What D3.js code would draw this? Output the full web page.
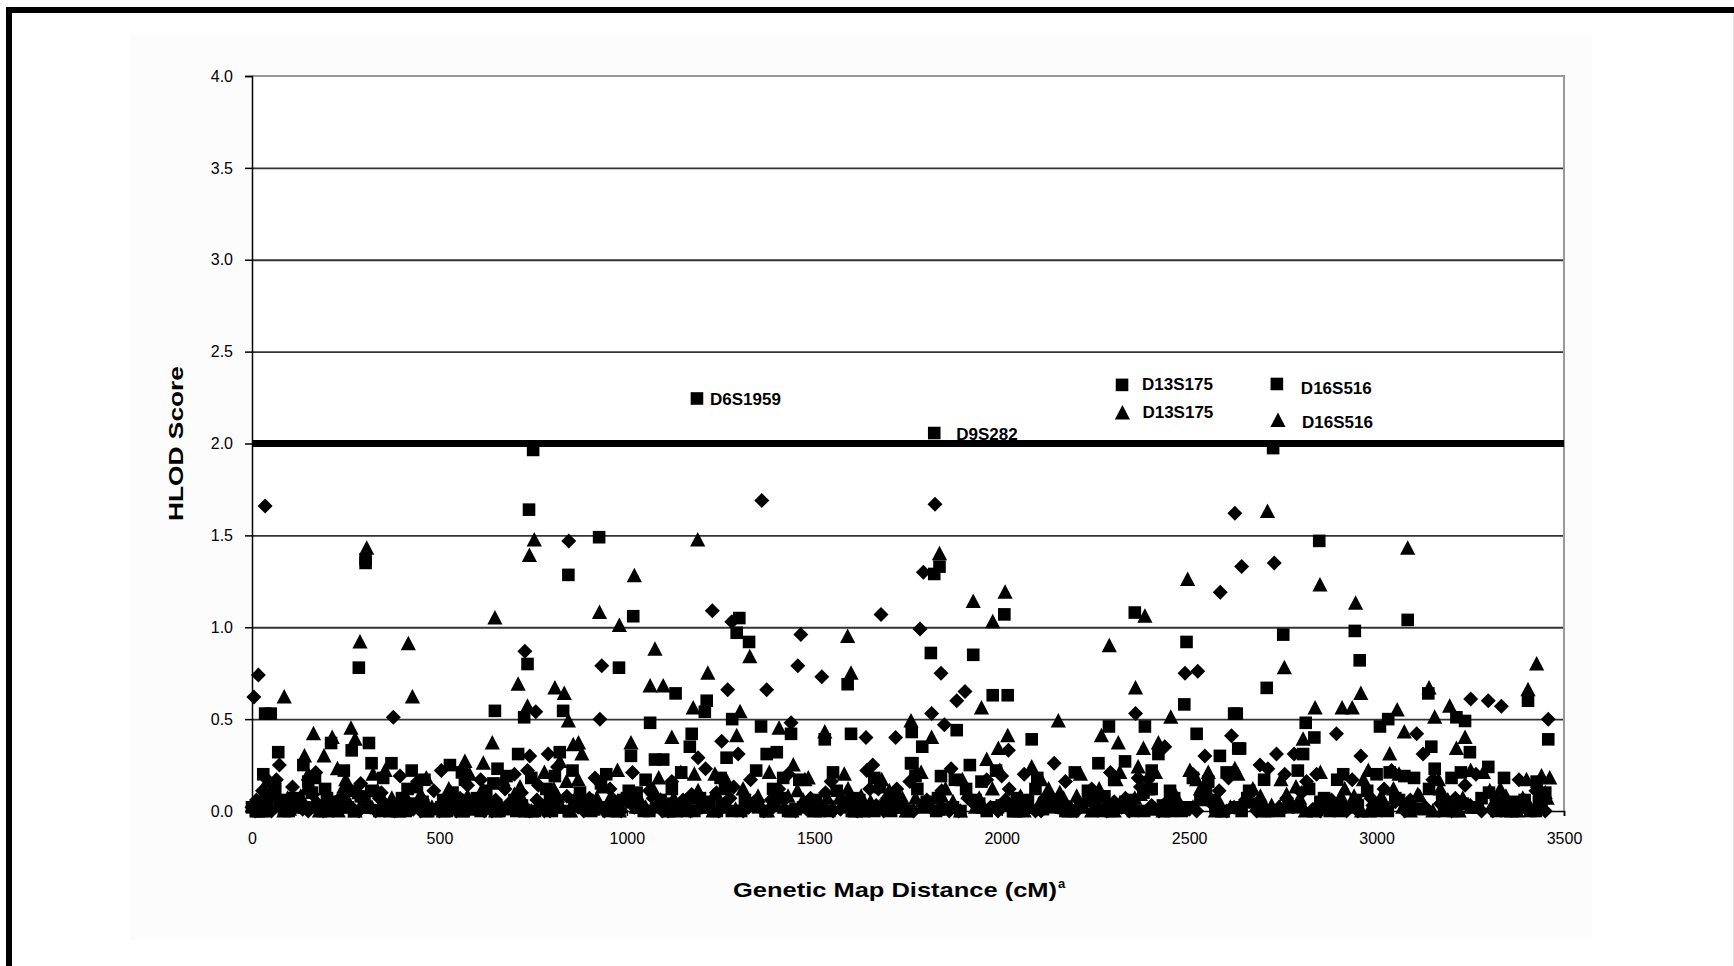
<!DOCTYPE html>
<html>
<head>
<meta charset="utf-8">
<script src="https://cdn.jsdelivr.net/npm/d3@7"></script>
<style>
  body { margin: 0; background: #fff; }
  svg { display: block; }
  text { font-family: "Liberation Sans", Arial, sans-serif; fill: #000; }
</style>
</head>
<body>
<div id="chart"></div>
<script>
'use strict'

// ---------------- data (cM, HLOD) ----------------
const diamonds = [
  [35,1.66],[845,1.47],[728,0.87],[17,0.74],[5,0.62],[377,0.51],[757,0.54],[73,0.25],[741,0.30],[735,0.22],[790,0.31],[764,0.14],[719,0.10],[442,0.16],[36,0.18],
  [1360,1.69],[1228,1.09],[1280,1.03],[1464,0.96],[1678,1.07],[933,0.79],[1456,0.79],[1520,0.73],[1269,0.66],[1373,0.66],[928,0.50],[1438,0.48],[1638,0.40],[1717,0.40],[1253,0.38],[1297,0.31],[1190,0.29],[1656,0.25],[1648,0.12],[1671,0.12],[1173,0.09],[1239,0.10],
  [1822,1.67],[2622,1.62],[1791,1.30],[2640,1.33],[2583,1.19],[1782,0.99],[1838,0.75],[2489,0.75],[2523,0.76],[1880,0.60],[1902,0.65],[1813,0.53],[2357,0.53],[1847,0.47],[2435,0.35],[2018,0.33],[2613,0.41],[2542,0.30],[2140,0.26],[2364,0.18],[2000,0.19],[1773,0.20],
  [2727,1.35],[3251,0.61],[3298,0.60],[3333,0.57],[3458,0.50],[3107,0.42],[2893,0.42],[3124,0.31],[2733,0.31],[2780,0.31],[2958,0.30],[2689,0.25],[2755,0.20],[2813,0.16],[3236,0.14]
]
const diamondsLow = [
  [0,0.02],[20,0.05],[45,0.01],[60,0.08],[95,0.03],[120,0.06],[150,0.0],[175,0.04],[205,0.02],[240,0.07],[270,0.01],[300,0.05],[330,0.0],[360,0.03],[400,0.06],[430,0.01],[470,0.02],[500,0.0],[530,0.04],[560,0.02],[590,0.06],[620,0.0],[660,0.03],[690,0.05],[720,0.01],[780,0.0],[810,0.04],[870,0.02],[900,0.07],[940,0.0],[970,0.03],[1000,0.05],[1040,0.01],[1080,0.04],[1110,0.0],[1150,0.06],[1200,0.02],[1260,0.04],[1310,0.0],[1340,0.05],[1390,0.02],[1420,0.06],[1480,0.01],[1510,0.03],[1550,0.0],[1600,0.04],[1630,0.02],[1700,0.05],[1740,0.01],[1790,0.03],[1860,0.0],[1920,0.05],[1970,0.02],[2040,0.04],[2090,0.0],[2120,0.06],[2180,0.02],[2220,0.04],[2260,0.01],[2300,0.05],[2340,0.0],[2400,0.03],[2460,0.06],[2500,0.01],[2560,0.04],[2600,0.0],[2660,0.05],[2700,0.02],[2770,0.04],[2830,0.01],[2870,0.06],[2920,0.0],[2990,0.03],[3050,0.05],[3100,0.01],[3170,0.04],[3220,0.02],[3280,0.0],[3350,0.05],[3400,0.02],[3450,0.0],
  [8,0.0],[28,0.11],[52,0.0],[78,0.02],[108,0.13],[135,0.01],[162,0.09],[190,0.0],[222,0.03],[255,0.12],[285,0.0],[315,0.02],[345,0.10],[380,0.0],[415,0.02],[450,0.0],[485,0.11],[515,0.01],[545,0.0],[575,0.14],[605,0.02],[640,0.0],[675,0.12],[705,0.02],[740,0.0],[770,0.03],[795,0.0],[840,0.08],[885,0.0],[920,0.02],[955,0.12],[985,0.0],[1020,0.02],[1060,0.11],[1095,0.0],[1130,0.02],[1170,0.0],[1215,0.03],[1245,0.0],[1285,0.13],[1325,0.02],[1365,0.0],[1405,0.12],[1450,0.0],[1495,0.02],[1530,0.10],[1570,0.01],[1615,0.0],[1665,0.03],[1685,0.0],[1720,0.12],[1765,0.0],[1810,0.02],[1840,0.11],[1885,0.0],[1945,0.02],[1990,0.0],[2020,0.12],[2065,0.01],[2105,0.0],[2150,0.02],[2200,0.0],[2240,0.12],[2280,0.0],[2320,0.02],[2370,0.13],[2420,0.0],[2480,0.02],[2520,0.0],[2580,0.11],[2620,0.02],[2680,0.0],[2740,0.02],[2800,0.10],[2850,0.0],[2900,0.03],[2950,0.0],[3020,0.12],[3075,0.0],[3130,0.02],[3200,0.0],[3250,0.03],[3310,0.0],[3370,0.02],[3425,0.11],
  [12,0.06],[65,0.17],[115,0.05],[170,0.21],[230,0.06],[290,0.15],[340,0.07],[395,0.19],[455,0.06],[505,0.22],[555,0.07],[610,0.17],[650,0.06],[700,0.20],[760,0.06],[815,0.24],[865,0.07],[915,0.18],[965,0.06],[1015,0.21],[1070,0.07],[1120,0.16],[1160,0.06],[1210,0.23],[1275,0.07],[1330,0.17],[1385,0.06],[1430,0.20],[1490,0.07],[1545,0.16],[1590,0.06],[1640,0.22],[1695,0.07],[1755,0.16],[1800,0.06],[1865,0.23],[1910,0.07],[1960,0.17],[2010,0.06],[2060,0.20],[2115,0.07],[2170,0.16],[2230,0.06],[2290,0.21],[2330,0.07],[2390,0.17],[2445,0.06],[2510,0.20],[2555,0.07],[2605,0.18],[2650,0.06],[2710,0.23],[2760,0.07],[2840,0.20],[2880,0.06],[2935,0.17],[2985,0.07],[3040,0.22],[3090,0.06],[3150,0.17],[3210,0.07],[3265,0.20],[3320,0.06],[3380,0.17],[3440,0.07]
]

const squares = [
  [750,1.965],[739,1.64],[303,1.37],[303,1.35],[844,1.285],[735,0.80],[285,0.78],[35,0.53],[50,0.53],[648,0.545],[726,0.51],[830,0.545],[70,0.32],[312,0.37],[266,0.33],[137,0.25],[211,0.37],[319,0.26],[372,0.26],[426,0.22],[415,0.12],[168,0.18],[195,0.12],[266,0.11],[528,0.25],[568,0.17],[710,0.31],[644,0.15],[679,0.19],[821,0.32],[808,0.19],[435,0.04],
  [1187,2.245],[926,1.49],[1017,1.06],[1300,1.05],[1293,0.97],[1326,0.92],[979,0.78],[1589,0.69],[1130,0.64],[1213,0.60],[1208,0.54],[1062,0.48],[1281,0.50],[1358,0.46],[1438,0.42],[1528,0.39],[1598,0.42],[1760,0.43],[1011,0.30],[1173,0.42],[1168,0.35],[1266,0.29],[1075,0.28],[1097,0.28],[1373,0.31],[1400,0.32],[1758,0.26],[931,0.15],[1417,0.18],[1026,0.10],[1715,0.07],
  [1820,2.057],[1834,1.33],[1820,1.29],[2007,1.07],[2355,1.08],[2493,0.92],[1811,0.86],[1924,0.85],[1976,0.63],[2016,0.63],[2487,0.58],[2620,0.53],[1880,0.44],[2286,0.46],[2382,0.46],[2520,0.42],[2080,0.39],[1788,0.35],[2418,0.31],[2631,0.34],[2582,0.30],[1915,0.25],[1762,0.26],[2258,0.26],[2329,0.27],[2551,0.16],[1838,0.19],[1946,0.16],[2274,0.08],[2378,0.10],[2449,0.11],
  [2724,1.975],[2847,1.47],[3083,1.04],[2751,0.96],[2942,0.98],[2955,0.82],[2707,0.67],[3404,0.60],[3138,0.64],[2627,0.53],[3236,0.49],[3213,0.51],[2811,0.48],[3031,0.50],[3009,0.46],[2834,0.40],[3458,0.39],[3146,0.35],[3249,0.32],[2804,0.31],[2636,0.34],[3298,0.24],[3155,0.23],[3035,0.21],[3074,0.19],[2911,0.20],[3200,0.18],[3427,0.16],[3433,0.05]
]
const squaresLow = [
  [10,0.0],[40,0.04],[85,0.01],[110,0.07],[140,0.02],[190,0.0],[220,0.05],[255,0.02],[290,0.08],[340,0.0],[380,0.03],[410,0.0],[455,0.05],[490,0.01],[520,0.0],[550,0.06],[580,0.02],[610,0.0],[640,0.04],[675,0.01],[705,0.0],[770,0.03],[800,0.0],[860,0.05],[890,0.02],[950,0.0],[990,0.06],[1030,0.02],[1060,0.0],[1100,0.04],[1140,0.01],[1180,0.0],[1220,0.05],[1280,0.0],[1330,0.03],[1370,0.0],[1410,0.07],[1450,0.01],[1500,0.04],[1540,0.0],[1580,0.02],[1620,0.06],[1660,0.0],[1690,0.03],[1750,0.0],[1800,0.05],[1850,0.01],[1890,0.0],[1940,0.04],[1990,0.02],[2030,0.0],[2070,0.06],[2110,0.01],[2170,0.0],[2210,0.04],[2250,0.02],[2290,0.0],[2330,0.05],[2380,0.0],[2430,0.03],[2480,0.0],[2530,0.06],[2570,0.02],[2640,0.0],[2680,0.04],[2740,0.0],[2790,0.02],[2850,0.05],[2900,0.0],[2950,0.03],[3000,0.0],[3060,0.06],[3120,0.01],[3180,0.0],[3230,0.04],[3270,0.02],[3320,0.0],[3370,0.05],[3410,0.0],[3440,0.02],
  [0,0.02],[25,0.0],[62,0.12],[98,0.0],[125,0.03],[160,0.10],[205,0.0],[238,0.02],[272,0.0],[318,0.11],[355,0.02],[395,0.0],[440,0.13],[470,0.0],[505,0.02],[535,0.10],[565,0.0],[595,0.03],[625,0.11],[660,0.0],[690,0.02],[720,0.03],[755,0.0],[785,0.12],[815,0.02],[845,0.0],[875,0.10],[905,0.0],[935,0.02],[970,0.0],[1005,0.11],[1045,0.0],[1080,0.02],[1120,0.12],[1160,0.0],[1200,0.02],[1240,0.0],[1262,0.12],[1305,0.0],[1350,0.02],[1390,0.12],[1430,0.0],[1470,0.02],[1515,0.0],[1560,0.11],[1600,0.0],[1640,0.02],[1675,0.13],[1705,0.0],[1730,0.02],[1775,0.12],[1825,0.0],[1870,0.02],[1905,0.12],[1960,0.0],[2000,0.03],[2045,0.0],[2090,0.12],[2130,0.02],[2190,0.0],[2230,0.11],[2270,0.0],[2310,0.02],[2350,0.0],[2400,0.12],[2450,0.0],[2500,0.02],[2545,0.10],[2590,0.0],[2625,0.02],[2660,0.11],[2710,0.0],[2765,0.02],[2820,0.12],[2875,0.0],[2925,0.02],[2975,0.11],[3030,0.0],[3090,0.02],[3140,0.12],[3205,0.0],[3255,0.02],[3300,0.10],[3345,0.0],[3390,0.02],[3425,0.0],
  [30,0.20],[90,0.06],[150,0.16],[200,0.07],[245,0.22],[300,0.06],[350,0.18],[400,0.07],[460,0.17],[510,0.06],[560,0.21],[600,0.07],[655,0.23],[700,0.06],[745,0.18],[795,0.07],[855,0.22],[895,0.06],[945,0.20],[1000,0.07],[1050,0.17],[1090,0.06],[1145,0.21],[1195,0.07],[1250,0.18],[1315,0.06],[1345,0.22],[1395,0.07],[1460,0.17],[1505,0.06],[1550,0.21],[1610,0.07],[1660,0.18],[1710,0.06],[1770,0.19],[1830,0.07],[1875,0.17],[1930,0.06],[1985,0.22],[2040,0.07],[2095,0.18],[2145,0.06],[2195,0.21],[2245,0.07],[2300,0.17],[2345,0.06],[2400,0.22],[2460,0.07],[2510,0.18],[2560,0.06],[2600,0.21],[2655,0.07],[2700,0.17],[2790,0.22],[2860,0.07],[2895,0.17],[2945,0.06],[3000,0.20],[3050,0.07],[3100,0.18],[3175,0.06],[3225,0.21],[3280,0.07],[3340,0.18],[3395,0.06],[3450,0.10]
]

const triangles = [
  [753,1.475],[740,1.39],[306,1.43],[648,1.05],[288,0.92],[417,0.91],[710,0.69],[808,0.67],[833,0.64],[86,0.62],[428,0.62],[735,0.57],[844,0.49],[164,0.42],[264,0.45],[214,0.40],[275,0.39],[192,0.30],[140,0.30],[323,0.20],[228,0.23],[568,0.27],[617,0.26],[641,0.37],[531,0.10],[857,0.36],[821,0.27],[839,0.16],[373,0.07],[30,0.09],
  [1189,1.475],[1020,1.28],[927,1.08],[980,1.01],[1589,0.95],[1075,0.88],[1328,0.84],[1216,0.75],[1598,0.75],[1062,0.68],[1097,0.68],[1177,0.56],[1302,0.54],[1406,0.45],[1528,0.43],[1120,0.40],[1011,0.37],[871,0.37],[880,0.31],[1293,0.41],[1444,0.25],[1144,0.21],[1484,0.18],[958,0.08],[1573,0.07],[1235,0.20],
  [1834,1.40],[2496,1.26],[2009,1.19],[1924,1.14],[2382,1.06],[1976,1.03],[2287,0.90],[2357,0.67],[1946,0.56],[2451,0.51],[2151,0.49],[1758,0.49],[2016,0.41],[1813,0.40],[2266,0.41],[2311,0.37],[2378,0.34],[2418,0.37],[1991,0.34],[1960,0.28],[2080,0.24],[2502,0.22],[2622,0.23],[2551,0.21],[2364,0.24],[2315,0.21],[2155,0.10],
  [2709,1.63],[3083,1.43],[2849,1.23],[2944,1.13],[2754,0.78],[3427,0.80],[3404,0.66],[2958,0.64],[3140,0.67],[2836,0.56],[2908,0.56],[2935,0.56],[3055,0.55],[3195,0.57],[3155,0.51],[3074,0.43],[2804,0.39],[3236,0.40],[3213,0.34],[3035,0.31],[3251,0.22],[2978,0.22],[3440,0.19],[3462,0.18],[3302,0.11],[3333,0.06]
]
const trianglesLow = [
  [5,0.03],[30,0.0],[70,0.05],[100,0.01],[130,0.08],[160,0.02],[200,0.06],[230,0.0],[260,0.04],[285,0.1],[320,0.02],[350,0.06],[390,0.0],[420,0.04],[450,0.09],[480,0.02],[510,0.0],[540,0.05],[575,0.08],[600,0.01],[630,0.06],[665,0.02],[700,0.09],[730,0.0],[790,0.05],[825,0.02],[880,0.08],[910,0.01],[960,0.04],[1000,0.09],[1050,0.02],[1090,0.06],[1130,0.0],[1170,0.07],[1210,0.02],[1250,0.05],[1290,0.01],[1350,0.08],[1400,0.03],[1440,0.0],[1470,0.06],[1530,0.02],[1570,0.08],[1610,0.0],[1650,0.05],[1720,0.02],[1770,0.07],[1830,0.01],[1870,0.05],[1910,0.1],[1950,0.02],[2010,0.06],[2060,0.0],[2100,0.04],[2160,0.02],[2200,0.08],[2240,0.0],[2280,0.05],[2320,0.02],[2370,0.09],[2410,0.01],[2450,0.05],[2510,0.02],[2550,0.08],[2590,0.0],[2650,0.06],[2720,0.03],[2760,0.09],[2810,0.0],[2860,0.05],[2890,0.02],[2940,0.08],[2980,0.0],[3020,0.05],[3070,0.02],[3110,0.09],[3150,0.0],[3190,0.06],[3250,0.02],[3310,0.04],[3360,0.0],[3390,0.07],[3430,0.02],
  [15,0.0],[50,0.11],[85,0.0],[115,0.02],[145,0.12],[180,0.0],[215,0.02],[245,0.13],[275,0.0],[305,0.02],[335,0.11],[370,0.0],[405,0.02],[435,0.14],[465,0.0],[495,0.02],[525,0.12],[560,0.0],[590,0.02],[615,0.12],[650,0.0],[680,0.02],[715,0.13],[745,0.0],[775,0.02],[805,0.12],[850,0.0],[895,0.02],[935,0.13],[980,0.0],[1025,0.02],[1070,0.12],[1110,0.0],[1150,0.02],[1190,0.11],[1230,0.0],[1270,0.02],[1310,0.12],[1375,0.0],[1420,0.02],[1455,0.11],[1500,0.0],[1550,0.02],[1590,0.12],[1630,0.0],[1670,0.02],[1700,0.11],[1745,0.0],[1790,0.02],[1850,0.12],[1890,0.0],[1930,0.02],[1975,0.12],[2035,0.0],[2080,0.02],[2125,0.12],[2180,0.0],[2220,0.02],[2260,0.12],[2300,0.0],[2345,0.02],[2390,0.12],[2430,0.0],[2475,0.02],[2530,0.12],[2570,0.0],[2610,0.02],[2670,0.12],[2700,0.0],[2740,0.02],[2785,0.13],[2835,0.0],[2875,0.02],[2915,0.12],[2960,0.0],[3000,0.02],[3045,0.12],[3090,0.0],[3130,0.02],[3170,0.12],[3220,0.0],[3270,0.02],[3330,0.12],[3375,0.0],[3410,0.02],[3450,0.1],
  [40,0.16],[95,0.07],[150,0.20],[205,0.08],[250,0.17],[300,0.07],[355,0.22],[410,0.08],[465,0.18],[520,0.07],[580,0.20],[625,0.08],[670,0.17],[720,0.07],[780,0.21],[815,0.08],[870,0.17],[920,0.07],[975,0.22],[1030,0.08],[1085,0.18],[1125,0.07],[1180,0.20],[1230,0.08],[1265,0.17],[1320,0.07],[1380,0.21],[1430,0.08],[1475,0.17],[1535,0.07],[1580,0.20],[1625,0.08],[1680,0.17],[1735,0.07],[1785,0.21],[1840,0.08],[1895,0.17],[1940,0.07],[1995,0.22],[2050,0.08],[2105,0.17],[2165,0.07],[2210,0.20],[2255,0.08],[2305,0.17],[2355,0.07],[2410,0.21],[2465,0.08],[2520,0.17],[2575,0.07],[2630,0.20],[2690,0.08],[2745,0.17],[2795,0.07],[2850,0.21],[2905,0.08],[2965,0.17],[3010,0.07],[3060,0.20],[3115,0.08],[3165,0.17],[3230,0.07],[3285,0.21],[3345,0.08],[3400,0.17],[3455,0.07]
]

// labelled markers: [cM, HLOD, symbol, label]
const labels = [
  [1187, 2.245, 'square', 'D6S1959'],
  [1820, 2.057, 'square', 'D9S282']
]
// free-standing notes: [cM, HLOD, symbol, label]
const notes = [
  [2321, 2.319, 'square', 'D13S175'],
  [2322, 2.166, 'triangle', 'D13S175'],
  [2734, 2.324, 'square', 'D16S516'],
  [2737, 2.125, 'triangle', 'D16S516']
]

const xTicks = [0, 500, 1000, 1500, 2000, 2500, 3000, 3500]
const yTicks = [0, 0.5, 1, 1.5, 2, 2.5, 3, 3.5, 4]
const threshold = 2.0

// ---------------- svg setup ----------------
const W = 1734, H = 966
const plot = { left: 252, right: 1564, top: 76, bottom: 811 }

const svg = d3.select('#chart').append('svg')
    .attr('width', W).attr('height', H)

// chart area + frame
svg.append('rect')
    .attr('x', 130).attr('y', 34).attr('width', 1462).attr('height', 906)
    .attr('fill', '#fcfcfc')
svg.append('rect')
    .attr('x', 9).attr('y', 10).attr('width', 1900).attr('height', 1100)
    .attr('fill', 'none').attr('stroke', '#000').attr('stroke-width', 6)
svg.append('line')
    .attr('x1', 1733.5).attr('x2', 1733.5).attr('y1', 13).attr('y2', H)
    .attr('stroke', '#e4e4e4')

svg.append('rect')
    .attr('x', plot.left).attr('y', plot.top)
    .attr('width', plot.right - plot.left).attr('height', plot.bottom - plot.top)
    .attr('fill', '#fff')

// ---------------- scales ----------------
const x = d3.scaleLinear().domain([0, 3500]).range([plot.left, plot.right])
const y = d3.scaleLinear().domain([0, 4]).range([plot.bottom, plot.top])

// ---------------- grid + axes ----------------
svg.append('g')
    .attr('transform', `translate(${plot.left},0)`)
    .call(d3.axisLeft(y).tickValues(yTicks.filter(d => d > 0 && d < 4))
        .tickSize(-(plot.right - plot.left)).tickFormat(''))
    .call(g => g.select('.domain').remove())
    .selectAll('line')
    .attr('stroke', '#333').attr('stroke-width', 1.8)

// top + right border (grey)
svg.append('path')
    .attr('d', `M${plot.left},${plot.top}H${plot.right}V${plot.bottom}`)
    .attr('fill', 'none').attr('stroke', '#999').attr('stroke-width', 2)

// y axis
const yAxis = svg.append('g')
    .attr('transform', `translate(${plot.left},0)`)
    .call(d3.axisLeft(y).tickValues(yTicks).tickSize(7).tickPadding(12).tickFormat(d3.format('.1f')))
yAxis.select('.domain').attr('stroke', '#000').attr('stroke-width', 1.5)
yAxis.selectAll('line').attr('stroke', '#000').attr('stroke-width', 1.5)
yAxis.selectAll('text').attr('font-size', '16px')
    .style('font-family', '"Liberation Sans", Arial, sans-serif').attr('fill', '#111')

// x axis
const xAxis = svg.append('g')
    .attr('transform', `translate(0,${plot.bottom})`)
    .call(d3.axisBottom(x).tickValues(xTicks).tickSize(5).tickPadding(17).tickFormat(d3.format('d')))
xAxis.select('.domain').attr('stroke', '#000').attr('stroke-width', 1.5)
xAxis.selectAll('line').attr('stroke', '#000').attr('stroke-width', 1.5)
xAxis.selectAll('text').attr('font-size', '16px')
    .style('font-family', '"Liberation Sans", Arial, sans-serif').attr('fill', '#111')

// ---------------- markers ----------------
const shape = {
  diamond: 'M0,-7.5L7.5,0L0,7.5L-7.5,0Z',
  square: 'M-6.3,-6.3H6.3V6.3H-6.3Z',
  triangle: 'M0,-8L7.6,6.5H-7.6Z'
}

const marks = svg.append('g')
function drawSeries(data, kind) {
  marks.append('g').selectAll('path')
      .data(data)
      .join('path')
      .attr('d', shape[kind])
      .attr('transform', d => `translate(${x(d[0])},${y(d[1])})`)
      .attr('fill', '#000')
}
drawSeries(diamonds.concat(diamondsLow), 'diamond')
drawSeries(squares.concat(squaresLow), 'square')
drawSeries(triangles.concat(trianglesLow), 'triangle')

// threshold line
svg.append('line')
    .attr('x1', plot.left).attr('x2', plot.right)
    .attr('y1', y(threshold)).attr('y2', y(threshold))
    .attr('stroke', '#000').attr('stroke-width', 7)

// ---------------- labels ----------------
svg.append('g').selectAll('text')
    .data(labels)
    .join('text')
    .attr('x', (d, i) => x(d[0]) + (i === 0 ? 13 : 22))
    .attr('y', d => y(d[1]) + 6.5)
    .attr('font-size', '17px').attr('font-weight', 'bold')
    .text(d => d[3])

const noteG = svg.append('g')
noteG.selectAll('path')
    .data(notes)
    .join('path')
    .attr('d', d => shape[d[2]])
    .attr('transform', d => `translate(${x(d[0])},${y(d[1])})`)
    .attr('fill', '#000')
noteG.selectAll('text')
    .data(notes)
    .join('text')
    .attr('x', (d, i) => x(d[0]) + (i < 2 ? 20 : 24))
    .attr('y', (d, i) => y(d[1]) + [5.5, 5, 10.5, 7.5][i])
    .attr('font-size', '17px').attr('font-weight', 'bold')
    .text(d => d[3])

// ---------------- axis titles ----------------
svg.append('text')
    .attr('transform', `translate(183,${(plot.top + plot.bottom) / 2}) rotate(-90)`)
    .attr('text-anchor', 'middle')
    .attr('font-size', '21px').attr('font-weight', 'bold')
    .attr('textLength', 155).attr('lengthAdjust', 'spacingAndGlyphs')
    .text('HLOD Score')

const xTitle = svg.append('text')
    .attr('x', 733).attr('y', 897)
    .attr('font-size', '21px').attr('font-weight', 'bold')
xTitle.append('tspan')
    .attr('textLength', 324).attr('lengthAdjust', 'spacingAndGlyphs')
    .text('Genetic Map Distance (cM)')
xTitle.append('tspan')
    .attr('font-size', '13px').attr('dy', -9).attr('dx', 1)
    .text('a')
</script>
</body>
</html>
